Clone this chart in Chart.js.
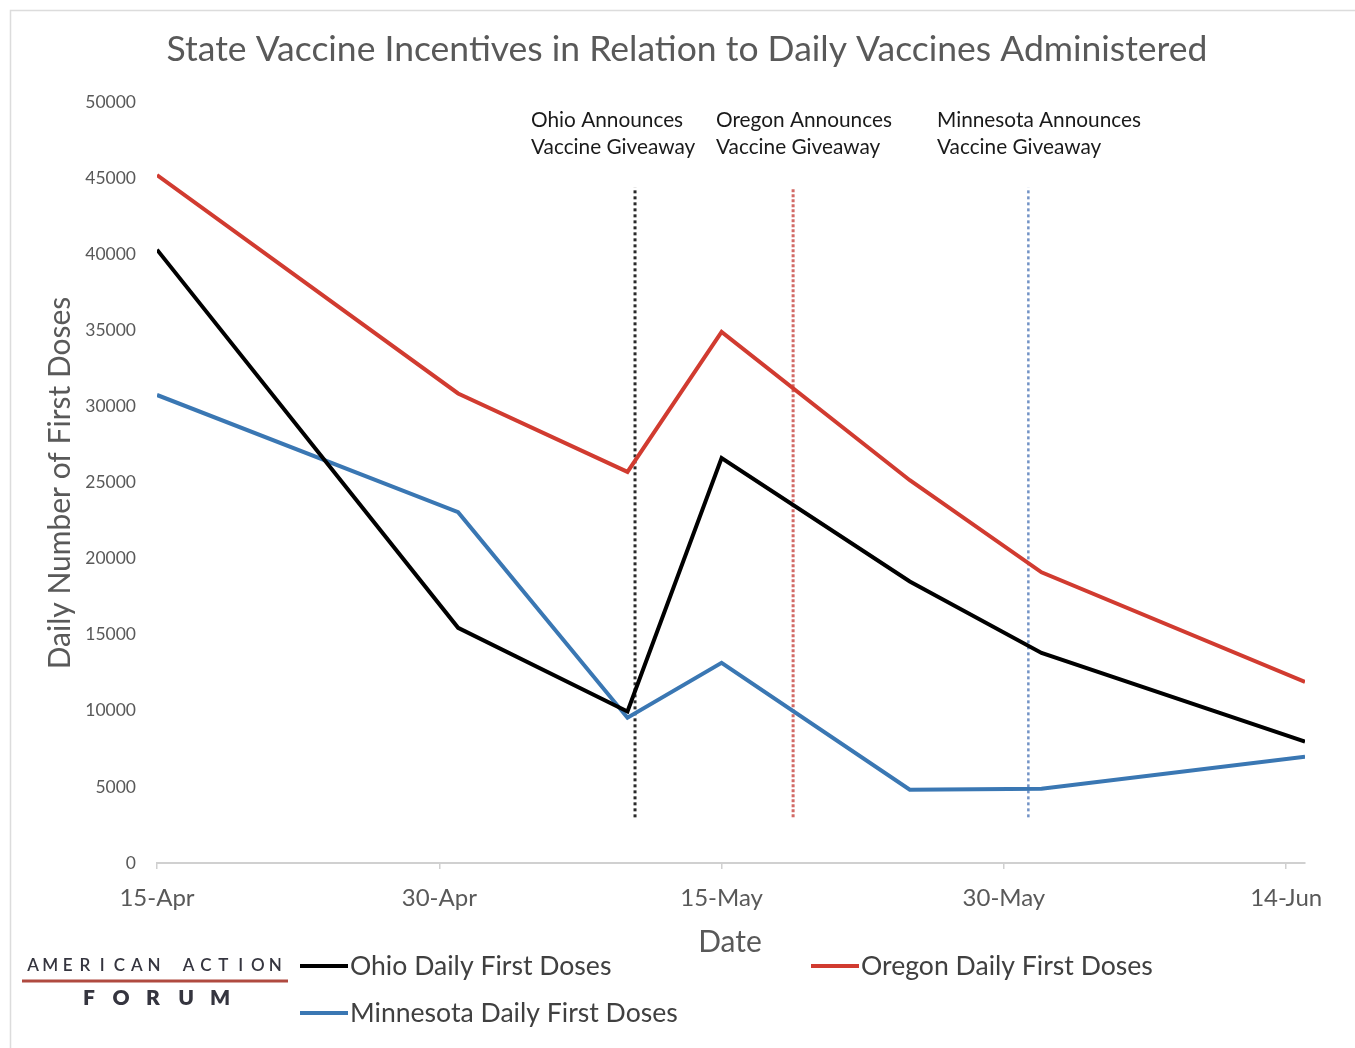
<!DOCTYPE html>
<html>
<head>
<meta charset="utf-8">
<title>State Vaccine Incentives</title>
<script src="https://cdn.jsdelivr.net/npm/chart.js@4.4.1/dist/chart.umd.min.js"></script>
<style>
  html, body { margin: 0; padding: 0; background: #fff; }
  #wrap { width: 1355px; height: 1048px; position: relative; }
</style>
</head>
<body>
<div id="wrap"><canvas id="chart"></canvas></div>
<script>
// days counted from 15-Apr
var days = [0, 16, 25, 30, 40, 47, 61];
var ohio = [40300, 15450, 9950, 26600, 18500, 13800, 7970];
var oregon = [45200, 30850, 25700, 34900, 25150, 19100, 11900];
var minnesota = [30750, 23050, 9550, 13150, 4820, 4880, 6990];

var tickDays = [0, 15, 30, 45, 60];
var tickLabels = ['15-Apr', '30-Apr', '15-May', '30-May', '14-Jun'];

// announcement dates (days from 15-Apr) and the span of the dotted lines
var announceDays = [25.4, 33.8, 46.3];
var announceNames = ['Ohio', 'Oregon', 'Minnesota'];
var markerLow = 3000;
var markerHigh = 44400;

var seriesNames = ['Ohio Daily First Doses', 'Oregon Daily First Doses', 'Minnesota Daily First Doses'];

var FONT = 'Lato, "Open Sans", sans-serif';

function pts(vals) {
  return days.map(function (d, i) { return { x: d, y: vals[i] }; });
}
function vline(d) {
  return [{ x: d, y: markerLow }, { x: d, y: markerHigh }];
}

var extras = {
  id: 'extras',
  beforeDraw: function (chart) {
    var ctx = chart.ctx;
    ctx.save();
    ctx.fillStyle = '#fff';
    ctx.fillRect(0, 0, chart.width, chart.height);
    ctx.strokeStyle = '#dcdcdc';
    ctx.lineWidth = 1.5;
    ctx.strokeRect(10.5, 10.5, 1400, 1100);
    ctx.restore();
  },
  afterDraw: function (chart) {
    var ctx = chart.ctx;
    ctx.save();
    // title
    ctx.fillStyle = '#595959';
    ctx.textAlign = 'center';
    ctx.textBaseline = 'middle';
    ctx.font = '35.5px ' + FONT;
    ctx.fillText('State Vaccine Incentives in Relation to Daily Vaccines Administered', 687, 50);

    // axis titles
    ctx.font = '30px ' + FONT;
    ctx.fillText('Date', 730, 942);
    ctx.save();
    ctx.translate(60, 483);
    ctx.rotate(-Math.PI / 2);
    ctx.font = '30px ' + FONT;
    ctx.fillText('Daily Number of First Doses', 0, 0);
    ctx.restore();

    // announcement notes
    ctx.fillStyle = '#1a1a1a';
    ctx.textAlign = 'left';
    ctx.font = '20.8px ' + FONT;
    var noteX = [531, 716, 937];
    announceNames.forEach(function (n, i) {
      ctx.fillText(n + ' Announces', noteX[i], 120);
      ctx.fillText('Vaccine Giveaway', noteX[i], 147);
    });

    // legend
    var items = [
      { x: 300, y: 966, c: '#000000' },
      { x: 811, y: 966, c: '#d13b30' },
      { x: 300, y: 1013, c: '#3a77b3' }
    ];
    ctx.font = '26.6px ' + FONT;
    ctx.fillStyle = '#404040';
    items.forEach(function (it, i) {
      ctx.strokeStyle = it.c;
      ctx.lineWidth = 4;
      ctx.beginPath();
      ctx.moveTo(it.x, it.y);
      ctx.lineTo(it.x + 48, it.y);
      ctx.stroke();
      ctx.fillText(seriesNames[i], it.x + 50, it.y);
    });

    // logo
    ctx.fillStyle = '#35353f';
    ctx.textAlign = 'center';
    ctx.font = '600 17px ' + FONT;
    var top = 'AMERICAN ACTION';
    for (var k = 0; k < top.length; k++) {
      ctx.fillText(top[k], 33 + k * 17.3, 966);
    }
    ctx.strokeStyle = '#b04a40';
    ctx.lineWidth = 3;
    ctx.beginPath();
    ctx.moveTo(22, 981);
    ctx.lineTo(288, 981);
    ctx.stroke();
    ctx.font = '800 21px ' + FONT;
    var bottom = 'FORUM';
    var fx = [89, 121, 153, 186, 220];
    for (var j = 0; j < bottom.length; j++) {
      ctx.fillText(bottom[j], fx[j], 998);
    }
    ctx.restore();
  }
};

new Chart(document.getElementById('chart'), {
  type: 'line',
  data: {
    datasets: [
      { label: seriesNames[0], data: pts(ohio), borderColor: '#000000', borderWidth: 4, order: 0 },
      { label: seriesNames[1], data: pts(oregon), borderColor: '#d13b30', borderWidth: 4, order: 0 },
      { label: seriesNames[2], data: pts(minnesota), borderColor: '#3a77b3', borderWidth: 4, order: 0 },
      { label: 'Ohio announces', data: vline(announceDays[0]), borderColor: '#2a2a2a', borderWidth: 3, borderDash: [3, 3], order: 1 },
      { label: 'Oregon announces', data: vline(announceDays[1]), borderColor: '#d26a66', borderWidth: 3, borderDash: [3, 2], order: 1 },
      { label: 'Minnesota announces', data: vline(announceDays[2]), borderColor: '#7393c6', borderWidth: 2.5, borderDash: [3, 3], order: 1 }
    ]
  },
  options: {
    responsive: true,
    maintainAspectRatio: false,
    animation: false,
    devicePixelRatio: 1,
    elements: {
      point: { radius: 0 },
      line: { tension: 0, fill: false, borderCapStyle: 'butt', borderJoinStyle: 'miter' }
    },
    layout: { padding: { top: 102, right: 50, left: 0, bottom: 0 } },
    plugins: {
      legend: { display: false },
      title: { display: false },
      tooltip: { enabled: false }
    },
    scales: {
      x: {
        type: 'linear',
        min: 0,
        max: 61,
        afterBuildTicks: function (scale) {
          scale.ticks = tickDays.map(function (v) { return { value: v }; });
        },
        afterFit: function (scale) { scale.height = 185; },
        grid: { display: true, drawOnChartArea: false, drawTicks: true, tickLength: 6, color: '#d0d0d0', lineWidth: 1.5 },
        border: { display: true, color: '#d0d0d0', width: 2 },
        ticks: {
          autoSkip: false,
          maxRotation: 0,
          padding: 15,
          color: '#595959',
          font: { family: FONT, size: 24 },
          callback: function (v) { return tickLabels[tickDays.indexOf(v)]; }
        }
      },
      y: {
        min: 0,
        max: 50000,
        afterFit: function (scale) { scale.width = 157; },
        grid: { display: false },
        border: { display: false },
        ticks: {
          stepSize: 5000,
          padding: 13,
          color: '#595959',
          font: { family: FONT, size: 17.5 },
          callback: function (v) { return String(v); }
        }
      }
    }
  },
  plugins: [extras]
});
</script>
</body>
</html>
